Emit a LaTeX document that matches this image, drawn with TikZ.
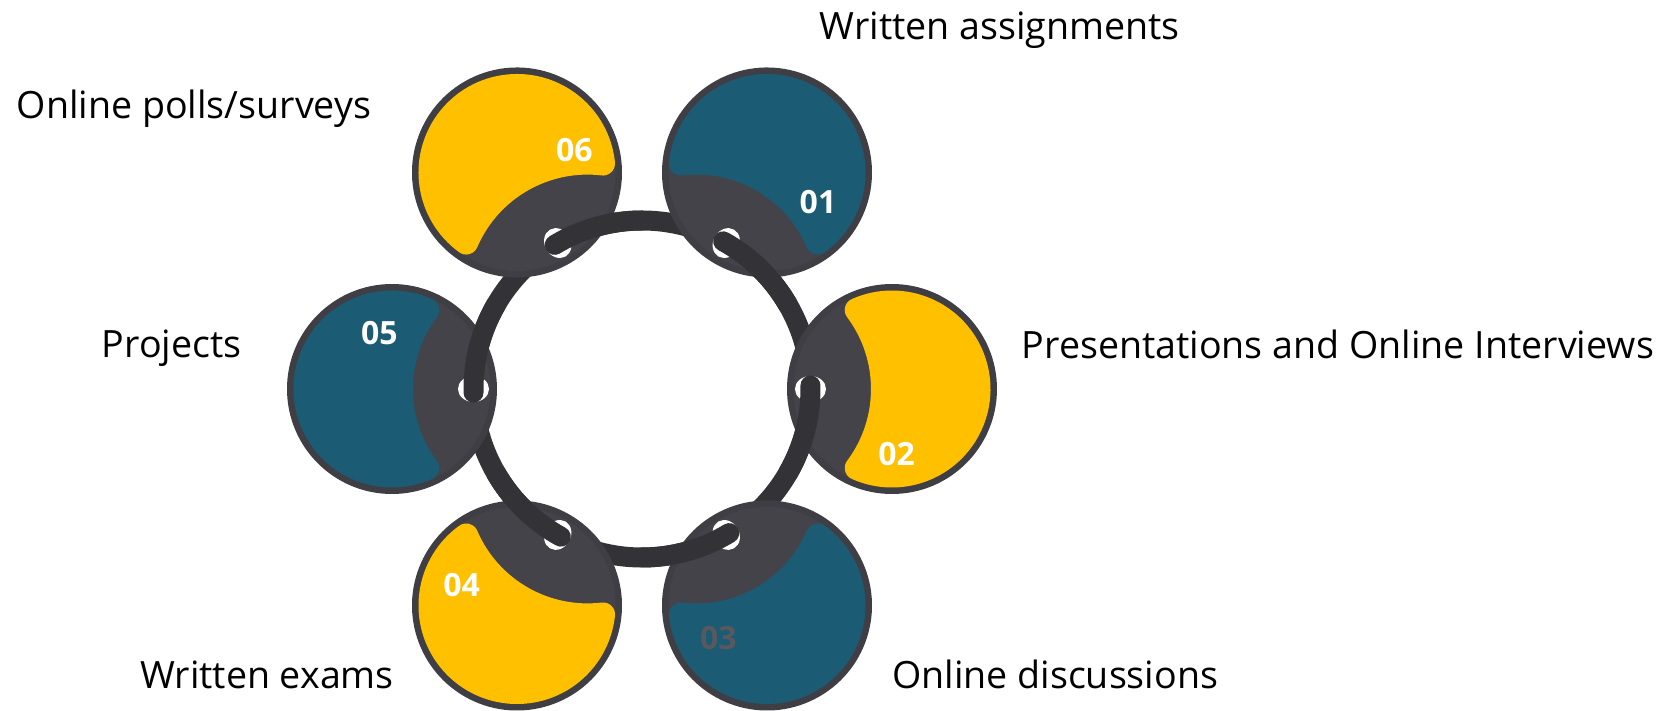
\documentclass[tikz,border=0pt]{standalone}
\usepackage{fontspec}
\setmainfont{Open Sans}

\definecolor{coingold}{HTML}{FFC000}
\definecolor{cointeal}{HTML}{1B5B73}
\definecolor{coingray}{HTML}{444349}
\definecolor{coinedge}{HTML}{3F3E44}
\definecolor{chaingray}{HTML}{333237}
\definecolor{numgray}{HTML}{58585F}

\tikzset{
  chain/.style={draw=chaingray, line width=20pt, line cap=round},
  itemtext/.style={font=\fontsize{37.6}{44}\selectfont, anchor=base west, inner sep=0pt},
  numtext/.style={font=\fontsize{32}{36}\selectfont\bfseries, text=white},
  pics/coin/.style={code={
    \fill[coinedge] (0,0) circle (105);
    \fill[coingray] (0,0) circle (98.5);
    \filldraw[draw=#1, fill=#1, line width=24pt, line join=round]
      (65.95:86.5) arc[start angle=65.95, end angle=294.05, radius=86.5]
      arc[start angle=216.76, end angle=143.24, radius=132] -- cycle;
    \fill[white] (81.5,0) ellipse[x radius=15.5, y radius=13];
    \draw[chain] (250,0) ++(181.2:168.5) arc[start angle=181.2, end angle=150, radius=168.5];
  }}
}

\begin{document}
\begin{tikzpicture}[x=1pt, y=1pt]
    \useasboundingbox (-642,-322) rectangle (1034,389);
    \draw[chain] (0,0) circle (168.5);

    \pic[rotate=240] at (60:250) {coin=cointeal};
    \pic[rotate=180] at (0:250) {coin=coingold};
    \pic[rotate=120] at (-60:250) {coin=cointeal};
    \pic[rotate=60] at (-120:250) {coin=coingold};
    \pic[rotate=0] at (180:250) {coin=cointeal};
    \pic[rotate=300] at (120:250) {coin=coingold};

    \node[numtext] (n1) at (176,186.7) {01};
    \node[numtext] (n2) at (254.7,-65) {02};
    \node[numtext, text=numgray] (n3) at (76.3,-249.3) {03};
    \node[numtext] (n4) at (-180.3,-196) {04};
    \node[numtext] (n5) at (-262.7,56.3) {05};
    \node[numtext] (n6) at (-67.7,239) {06};

    \node[itemtext] (l1) at (177.5,349.7) {Written assignments};
    \node[itemtext] (l2) at (379.6,30.7) {Presentations and Online Interviews};
    \node[itemtext] (l3) at (250,-300) {Online discussions};
    \node[itemtext] (l4) at (-502,-300) {Written exams};
    \node[itemtext] (l5) at (-540.3,31) {Projects};
    \node[itemtext] (l6) at (-625.3,270.7) {Online polls/surveys};
\end{tikzpicture}
\end{document}
